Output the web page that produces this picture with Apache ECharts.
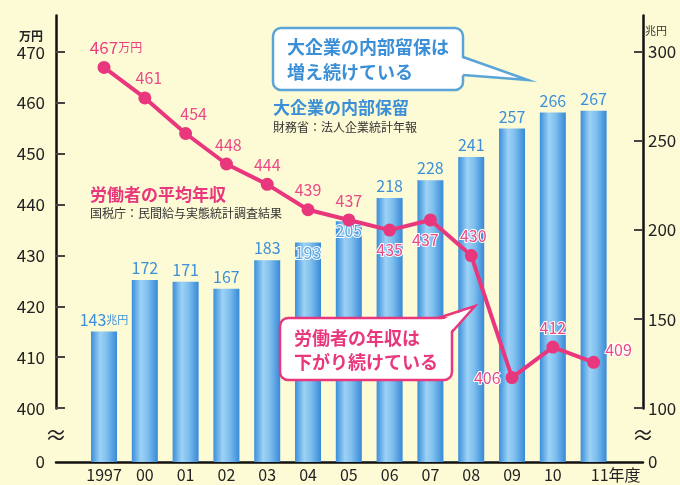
<!DOCTYPE html>
<html>
<head>
<meta charset="utf-8">
<script src="https://cdn.jsdelivr.net/npm/echarts@6/dist/echarts.min.js"></script>
<style>
  html, body { margin: 0; padding: 0; background: #fdfbd6; }
  #chart { width: 680px; height: 485px; }
</style>
</head>
<body>
<div id="chart"></div>
<script>
// 年度
var years = ['1997', '00', '01', '02', '03', '04', '05', '06', '07', '08', '09', '10', '11年度'];
// 大企業の内部保留（兆円）
var reserves = [143, 172, 171, 167, 183, 193, 205, 218, 228, 241, 257, 266, 267];
// 労働者の平均年収（万円）
var income = [467, 461, 454, 448, 444, 439, 437, 435, 437, 430, 406, 412, 409];
// 目盛り
var leftTicks = [0, 400, 410, 420, 430, 440, 450, 460, 470];
var rightTicks = [0, 100, 150, 200, 250, 300];

var font = '"Noto Sans CJK JP", "Noto Sans", sans-serif';
var pink = '#e8377c';
var blue = '#3b8fd6';

// ラベルの置き場所（折れ線）
var lineLabelPos = [
  { position: 'top', offset: [12, 0] },
  { position: 'top', offset: [4, 0] },
  { position: 'top', offset: [8, 0] },
  { position: 'top', offset: [2, 0] },
  { position: 'top' },
  { position: 'top' },
  { position: 'top' },
  { position: 'bottom' },
  { position: 'bottom', offset: [-5, 0] },
  { position: 'top', offset: [2, 0] },
  { position: 'left' },
  { position: 'top' },
  { position: 'right', offset: [0, -12] }
];

var chart = echarts.init(document.getElementById('chart'));

var barData = reserves.map(function (v, i) {
  var d = { value: [i, v] };
  if (i === 5 || i === 6) {
    d.label = { position: 'insideTop', distance: 2, textBorderColor: '#fff', textBorderWidth: 2, color: '#5aa6e0' };
  }
  return d;
});

var lineData = income.map(function (v, i) {
  var l = Object.assign({}, lineLabelPos[i]);
  if (i >= 7) {
    l.textBorderColor = '#fff';
    l.textBorderWidth = 2;
  }
  return { value: [i, v], label: l };
});

function callout(rect, tailFill, tailLine, color) {
  return [
    {
      type: 'rect', shape: rect,
      style: { fill: '#fff', stroke: color, lineWidth: 2.5 }, z: 100
    },
    {
      type: 'polygon', shape: { points: tailFill },
      style: { fill: '#fff' }, z: 101
    },
    {
      type: 'polyline', shape: { points: tailLine },
      style: { stroke: color, lineWidth: 2.5, fill: null }, z: 102
    }
  ];
}

function txt(x, y, text, size, color, weight) {
  return {
    type: 'text', x: x, y: y, z: 110,
    style: {
      text: text, fontSize: size, fill: color, fontFamily: font,
      fontWeight: weight || 'normal', verticalAlign: 'middle'
    }
  };
}

var graphics = []
  .concat(callout({ x: 273, y: 28, width: 190, height: 62, r: 8 },
    [[459, 57], [528, 80], [459, 75]], [[463, 57], [528, 80], [463, 75]], '#5ba4d8'))
  .concat(callout({ x: 280, y: 318, width: 172, height: 62, r: 8 },
    [[437, 322], [475, 306], [448, 334]], [[438, 318], [475, 306], [452, 332]], pink))
  .concat([
    txt(287, 47, '大企業の内部留保は', 18, blue, 'bold'),
    txt(287, 72, '増え続けている', 18, blue, 'bold'),
    txt(273, 108, '大企業の内部保留', 17, blue, 'bold'),
    txt(273, 127, '財務省：法人企業統計年報', 12, '#333'),
    txt(90, 195, '労働者の平均年収', 17, pink, 'bold'),
    txt(90, 213, '国税庁：民間給与実態統計調査結果', 12, '#333'),
    txt(294, 338, '労働者の年収は', 18, pink, 'bold'),
    txt(294, 362, '下がり続けている', 18, pink, 'bold'),
    txt(19, 36, '万円', 12, '#222', 'bold'),
    txt(645, 31, '兆円', 11, '#333'),
    // 省略記号
    { type: 'rect', shape: { x: 52, y: 430, width: 8, height: 10 }, style: { fill: '#fdfbd6' }, z: 105 },
    { type: 'rect', shape: { x: 639, y: 430, width: 8, height: 10 }, style: { fill: '#fdfbd6' }, z: 105 },
    txt(45, 435, '≈', 22, '#222'),
    txt(632, 435, '≈', 22, '#222')
  ]);

chart.setOption({
  backgroundColor: '#fdfbd6',
  textStyle: { fontFamily: font },
  grid: { left: 56, right: 37, top: 15, bottom: 23 },
  xAxis: {
    type: 'value',
    min: -1.177,
    max: 13.21,
    splitLine: { show: false },
    axisTick: { show: false },
    axisLine: { onZero: false, lineStyle: { color: '#111', width: 2.5 } },
    axisLabel: {
      customValues: years.map(function (y, i) { return i; }),
      fontSize: 16,
      color: '#222',
      margin: 5,
      formatter: function (v) {
        var i = Math.round(v);
        if (i === years.length - 1) return '{last|' + years[i] + '}';
        return years[i];
      },
      rich: { last: { fontSize: 16, color: '#222', padding: [0, 0, 0, 44] } }
    }
  },
  yAxis: [
    {
      type: 'value',
      min: 0,
      max: 477.3,
      breaks: [{ start: 0, end: 400, gap: 10.6 }],
      breakArea: { show: false },
      splitLine: { show: false },
      axisLine: { show: true, onZero: false, lineStyle: { color: '#111', width: 2.5 } },
      axisTick: { show: true, inside: true, length: 9, customValues: leftTicks.slice(1), lineStyle: { color: '#444', width: 2 } },
      axisLabel: { customValues: leftTicks, fontSize: 17, color: '#222', margin: 11 }
    },
    {
      type: 'value',
      min: 0,
      max: 320.8,
      breaks: [{ start: 0, end: 100, gap: 30.3 }],
      breakArea: { show: false },
      splitLine: { show: false },
      axisLine: { show: true, onZero: false, lineStyle: { color: '#111', width: 2.5 } },
      axisTick: { show: true, inside: true, length: 9, customValues: rightTicks.slice(1), lineStyle: { color: '#444', width: 2 } },
      axisLabel: { customValues: rightTicks, fontSize: 17, color: '#222', margin: 5 }
    }
  ],
  series: [
    {
      name: '大企業の内部保留',
      type: 'bar',
      yAxisIndex: 1,
      barWidth: 26,
      data: barData,
      itemStyle: {
        color: new echarts.graphic.LinearGradient(0, 0, 1, 0, [
          { offset: 0, color: '#3a8edb' },
          { offset: 0.35, color: '#9dd2f5' },
          { offset: 0.6, color: '#80c0ee' },
          { offset: 1, color: '#3889d8' }
        ])
      },
      label: {
        show: true,
        position: 'top',
        distance: 4,
        fontSize: 16,
        color: '#3d8fd8',
        formatter: function (p) {
          return p.dataIndex === 0 ? p.value[1] + '{s|兆円}' : p.value[1];
        },
        rich: { s: { fontSize: 11, color: '#3d8fd8' } }
      },
      z: 2
    },
    {
      name: '労働者の平均年収',
      type: 'line',
      yAxisIndex: 0,
      data: lineData,
      symbol: 'circle',
      symbolSize: 13,
      itemStyle: { color: pink },
      lineStyle: { color: pink, width: 4 },
      label: {
        show: true,
        fontSize: 16,
        color: '#ea4a86',
        formatter: function (p) {
          return p.dataIndex === 0 ? '{a|' + p.value[1] + '}{b|万円}' : p.value[1];
        },
        rich: {
          a: { fontSize: 17, color: '#ea3f80' },
          b: { fontSize: 12, color: '#ea3f80' }
        }
      },
      z: 5
    }
  ],
  graphic: graphics
});
</script>
</body>
</html>
